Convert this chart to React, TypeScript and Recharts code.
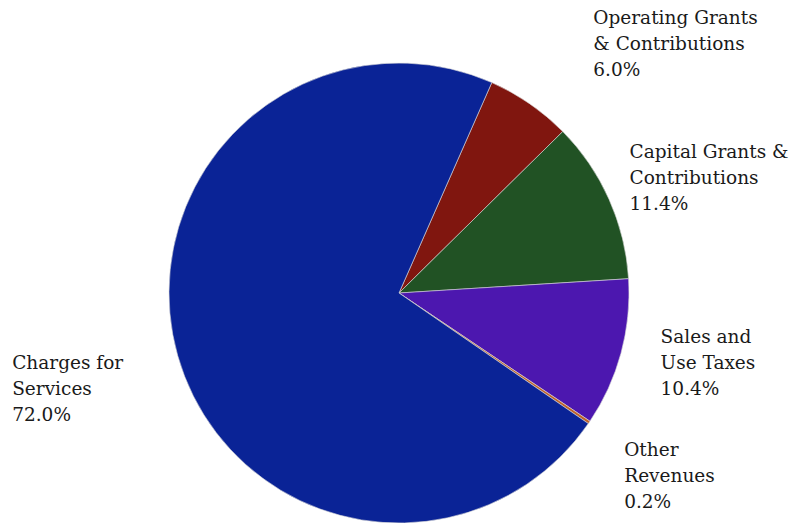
import { PieChart, Pie, Cell } from "recharts";

const categories = [
  ["Operating Grants", "& Contributions"],
  ["Capital Grants &", "Contributions"],
  ["Sales and", "Use Taxes"],
  ["Other", "Revenues"],
  ["Charges for", "Services"],
];
const shares = [6.0, 11.4, 10.4, 0.2, 72.0];
const colors = ["#80160F", "#215224", "#4C17AF", "#C0622A", "#0A2396"];

const data = categories.map((lines, i) => ({
  name: lines.join(" "),
  lines,
  value: shares[i],
}));

// nudges for the label blocks (relative to a point just outside the pie)
const labelNudge: Record<string, [number, number]> = {
  "Operating Grants & Contributions": [41, -27],
  "Capital Grants & Contributions": [-16, -5],
  "Sales and Use Taxes": [1, -1],
  "Other Revenues": [2, 31],
  "Charges for Services": [-127, 22],
};

const RADIAN = Math.PI / 180;

function renderLabel(props: any) {
  const { cx, cy, midAngle, outerRadius, payload } = props;
  const r = outerRadius + 40;
  const [nx, ny] = labelNudge[payload.name] || [0, 0];
  const x = cx + r * Math.cos(-midAngle * RADIAN) + nx;
  const y = cy + r * Math.sin(-midAngle * RADIAN) + ny;
  const rows = [...payload.lines, `${payload.value.toFixed(1)}%`];
  return (
    <text
      x={x}
      y={y}
      fill="#1a1a1a"
      fontSize={18.5}
      fontFamily="'DejaVu Serif', serif"
      textAnchor="start"
    >
      {rows.map((t: string, i: number) => (
        <tspan key={i} x={x} y={y + (i - 1) * 26} dominantBaseline="central">
          {t}
        </tspan>
      ))}
    </text>
  );
}

export default function App() {
  return (
    <div style={{ position: "absolute", left: 0, top: 0, background: "#fff" }}>
      <PieChart
        width={790}
        height={523}
        margin={{ top: 0, right: 0, bottom: 0, left: 0 }}
      >
        <Pie
          data={data}
          dataKey="value"
          nameKey="name"
          cx={399}
          cy={293}
          outerRadius={230}
          startAngle={66.2}
          endAngle={-293.8}
          stroke="#d8d8d8"
          strokeWidth={0.6}
          label={renderLabel}
          labelLine={false}
          isAnimationActive={false}
        >
          {data.map((d, i) => (
            <Cell key={d.name} fill={colors[i]} />
          ))}
        </Pie>
      </PieChart>
    </div>
  );
}
